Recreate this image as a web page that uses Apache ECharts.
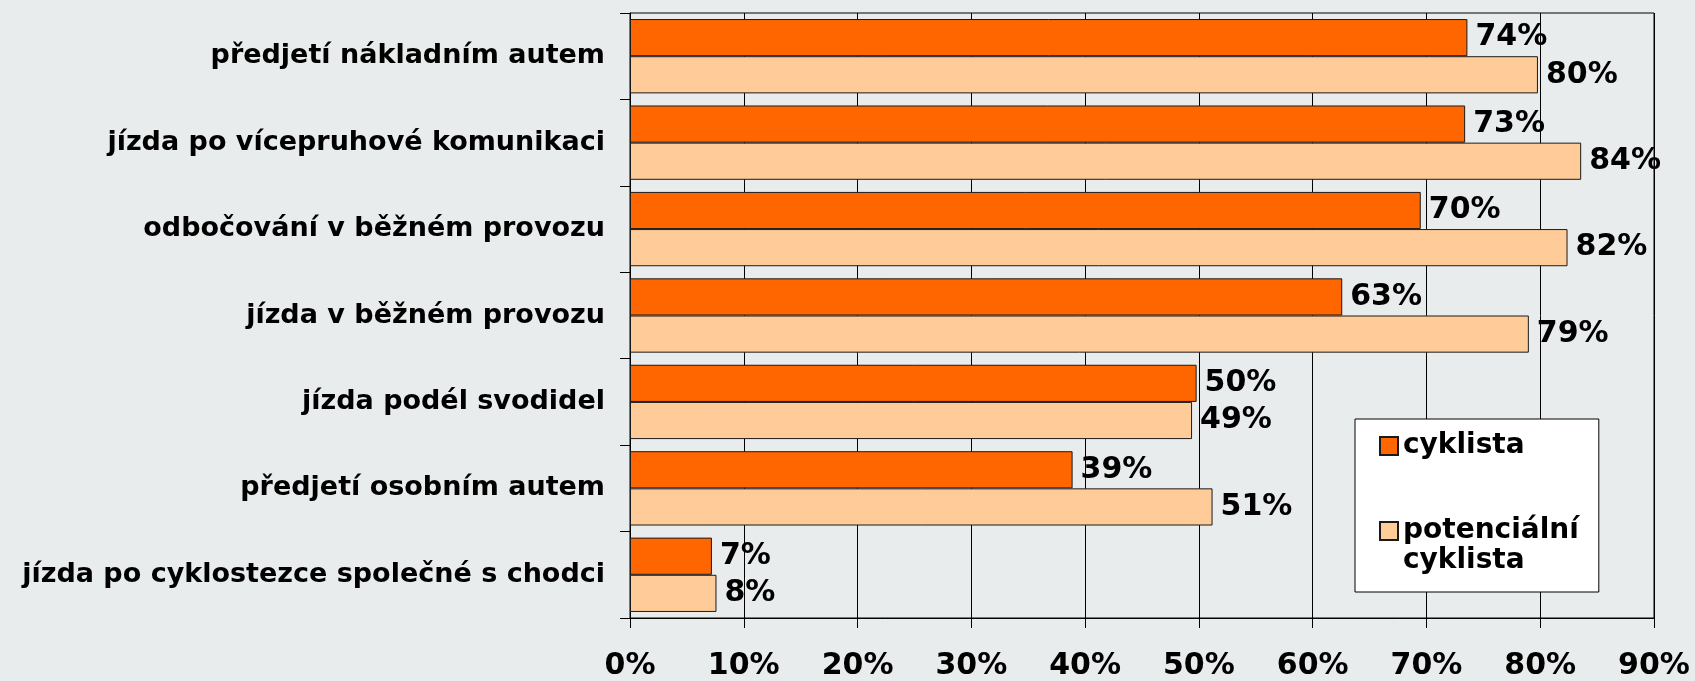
<!DOCTYPE html>
<html lang="cs">
<head>
    <meta charset="utf-8" />
    <title>cyklista</title>
    <script src="https://cdn.jsdelivr.net/npm/echarts@6/dist/echarts.min.js"></script>
    <style>
        html, body { margin: 0; padding: 0; background: #e9eced; }
        #graf { width: 1695px; height: 681px; }
    </style>
</head>
<body>
<div id="graf"></div>
<script>
// data
var kategorie = [
    'předjetí nákladním autem',
    'jízda po vícepruhové komunikaci',
    'odbočování v běžném provozu',
    'jízda v běžném provozu',
    'jízda podél svodidel',
    'předjetí osobním autem',
    'jízda po cyklostezce společné s chodci'
];
var cyklista = [73.6, 73.4, 69.5, 62.6, 49.8, 38.9, 7.2];
var potencialni = [79.8, 83.6, 82.4, 79.0, 49.4, 51.2, 7.6];
var osaX = [0, 10, 20, 30, 40, 50, 60, 70, 80, 90];

var pismo = 'DejaVu Sans';

var popisek = {
    show: true,
    position: 'right',
    distance: 8,
    color: '#000',
    fontFamily: pismo,
    fontWeight: 'bold',
    fontSize: 30,
    formatter: function (p) { return Math.round(p.value) + '%'; }
};

var graf = echarts.init(document.getElementById('graf'));
graf.setOption({
    backgroundColor: '#e9eced',
    animation: false,
    grid: {
        left: 630, right: 41, top: 13, bottom: 59,
        show: true, borderColor: '#000', borderWidth: 1
    },
    legend: {
        orient: 'vertical',
        left: 1355, top: 419,
        padding: [12, 20, 16, 24],
        backgroundColor: '#fff',
        borderColor: '#000',
        borderWidth: 1,
        borderRadius: 0,
        itemWidth: 18, itemHeight: 18,
        itemGap: 25,
        icon: 'rect',
        textStyle: { fontFamily: pismo, fontWeight: 'bold', fontSize: 28, lineHeight: 30, color: '#000' },
        data: ['cyklista', 'potenciální cyklista'],
        // druhá položka: první řádek textu u ikony
        formatter: function (n) {
            return n === 'potenciální cyklista' ? '\npotenciální\ncyklista' : n;
        }
    },
    xAxis: {
        type: 'value',
        min: osaX[0], max: osaX[osaX.length - 1], interval: 10,
        axisLine: { show: true, lineStyle: { color: '#000', width: 1 } },
        axisTick: { show: true, length: 10, lineStyle: { color: '#000' } },
        splitLine: { show: true, lineStyle: { color: '#000', width: 1 } },
        axisLabel: {
            margin: 33, color: '#000', fontFamily: pismo, fontWeight: 'bold', fontSize: 30,
            formatter: '{value}%'
        }
    },
    yAxis: {
        type: 'category',
        inverse: true,
        data: kategorie,
        axisLine: { show: true, lineStyle: { color: '#000', width: 1 } },
        axisTick: { show: true, length: 10, lineStyle: { color: '#000' } },
        axisLabel: { margin: 25, color: '#000', fontFamily: pismo, fontWeight: 'bold', fontSize: 27 }
    },
    series: [
        {
            name: 'cyklista', type: 'bar', data: cyklista,
            barCategoryGap: '14%', barGap: '0%',
            itemStyle: { color: '#ff6600', borderColor: '#1a1a1a', borderWidth: 1 },
            label: popisek
        },
        {
            name: 'potenciální cyklista', type: 'bar', data: potencialni,
            barCategoryGap: '14%', barGap: '0%',
            itemStyle: { color: '#ffcc99', borderColor: '#1a1a1a', borderWidth: 1 },
            label: popisek
        }
    ]
});
</script>
</body>
</html>
